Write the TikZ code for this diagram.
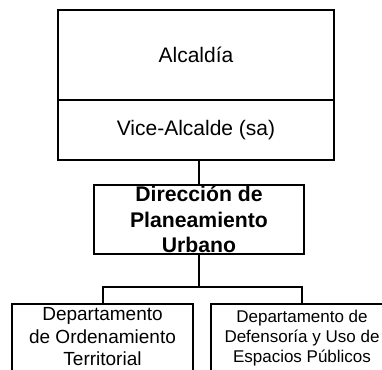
\documentclass[tikz,border=0pt]{standalone}
\usepackage{fontspec}
\setmainfont{Liberation Sans}
\usetikzlibrary{positioning}

\newcommand{\tail}{\rule[-8pt]{0pt}{8pt}}

\begin{document}
\begin{tikzpicture}[x=1pt,y=-1pt,on grid,line width=2pt,
   unit/.style={draw,inner sep=0pt,minimum width=276pt,font=\fontsize{21}{24}\selectfont},
   office/.style={draw,inner sep=0pt,align=center,minimum width=210pt,minimum height=69pt,
      font=\bfseries\fontsize{21.2}{25.5}\selectfont},
   dept/.style={draw,anchor=north,inner xsep=0pt,align=center}]
   \useasboundingbox (0,0) rectangle (382,369);
   \clip (0,0) rectangle (382,369);
   \node[unit,minimum height=90pt] (alcaldia) at (196,55) {Alcaldía};
   \node[unit,minimum height=60pt] (vice) [below=75pt of alcaldia] {Vice-Alcalde (sa)};
   \node[office] (direccion) [below=89.5pt of vice,xshift=3pt] {Dirección de\\Planeamiento\\Urbano};
   \node[dept,minimum width=181pt,inner ysep=3.2pt,font=\fontsize{19}{22.8}\selectfont] (ordenamiento)
      at (102.5,303) {Departamento\\de Ordenamiento\\Territorial\tail};
   \node[dept,minimum width=182pt,inner ysep=6.5pt,font=\fontsize{17}{20}\selectfont] (defensoria)
      at (302,303) {Departamento de\\Defensoría y Uso de\\Espacios Públicos\tail};
   \coordinate (split) at (direccion.south |- 0,287);
   \draw (direccion.north) -- (direccion.north |- vice.south);
   \draw (direccion.south) -- (split);
   \draw (ordenamiento.north) |- (split) -| (defensoria.north);

\end{tikzpicture}
\end{document}
